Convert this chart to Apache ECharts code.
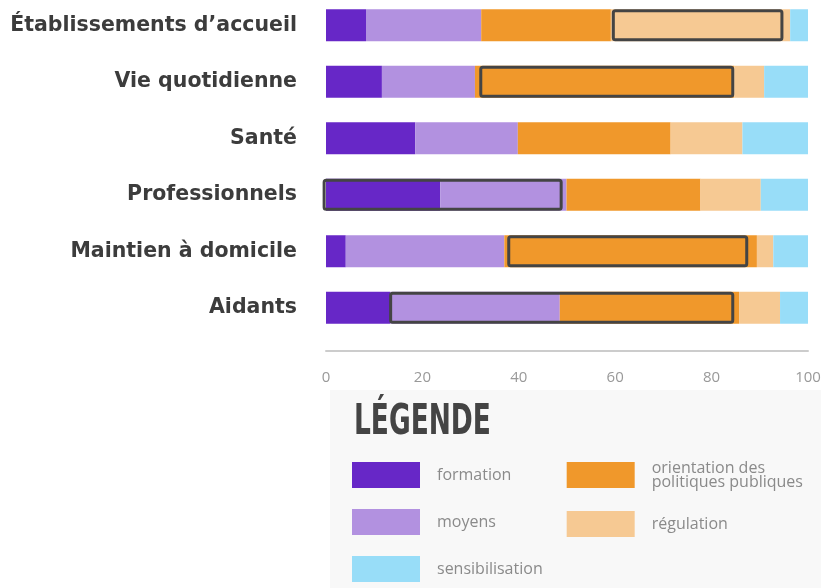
<!DOCTYPE html>
<html>
<head>
<meta charset="utf-8">
<script src="https://cdn.jsdelivr.net/npm/echarts@6/dist/echarts.min.js"></script>
<style>
  html, body { margin: 0; padding: 0; background: #fff; overflow: hidden; }
  #chart { width: 821px; height: 588px; }
</style>
</head>
<body>
<div id="chart"></div>
<script>
// categories, top to bottom
const categories = ["Établissements d’accueil", "Vie quotidienne", "Santé", "Professionnels", "Maintien à domicile", "Aidants"];

// share of each theme (%) per category
const formation = [8.3, 11.6, 18.5, 23.7, 4.1, 13.3];
const moyens = [23.9, 19.3, 21.3, 26.2, 32.9, 35.2];
const orientation = [26.9, 53.8, 31.7, 27.8, 52.4, 37.2];
const regulation = [37.2, 6.2, 14.9, 12.5, 3.4, 8.5];
const sensibilisation = [3.7, 9.1, 13.6, 9.8, 7.2, 5.8];

// highlighted ranges [from, to, categoryIndex]
const highlights = [
    [59.3, 94.9, 0],
    [31.8, 84.7, 1],
    [-0.7, 49.1, 3],
    [37.6, 87.6, 4],
    [13.1, 84.7, 5]
];

const xTicks = [0, 20, 40, 60, 80, 100];

const seriesDefs = [
    { name: "formation", data: formation, color: "#6727C7" },
    { name: "moyens", data: moyens, color: "#B291E0" },
    { name: "orientation des politiques publiques", data: orientation, color: "#F0982B" },
    { name: "régulation", data: regulation, color: "#F6C993" },
    { name: "sensibilisation", data: sensibilisation, color: "#98DDF8" }
];

// legend reads column by column
const legendOrder = ["formation", "moyens", "sensibilisation", "orientation des politiques publiques", "régulation"];

const myChart = echarts.init(document.getElementById("chart"));

const barSeries = seriesDefs.map(s => ({
    name: s.name,
    type: "bar",
    stack: "total",
    barWidth: 32,
    data: s.data,
    itemStyle: { color: s.color },
    emphasis: { disabled: true }
}));

const boxSeries = {
    type: "custom",
    name: "highlight",
    data: highlights,
    encode: { x: [0, 1], y: 2 },
    z: 10,
    silent: true,
    renderItem: (params, api) => {
        const a = api.coord([api.value(0), api.value(2)]);
        const b = api.coord([api.value(1), api.value(2)]);
        const h = 32;
        return {
            type: "rect",
            shape: { x: a[0] + 1.5, y: a[1] - h / 2 + 1.5, width: b[0] - a[0] - 3, height: h - 3, r: 2 },
            style: { fill: "none", stroke: "#444444", lineWidth: 3 }
        };
    }
};

const option = {
    animation: false,
    backgroundColor: "#ffffff",
    grid: { left: 326, right: 13, top: -3, bottom: 252, containLabel: false, outerBoundsMode: "none" },
    xAxis: {
        type: "value",
        min: xTicks[0],
        max: xTicks[xTicks.length - 1],
        interval: 20,
        offset: 15,
        splitLine: { show: false },
        axisTick: { show: false },
        axisLine: { show: true, lineStyle: { color: "#cccccc", width: 2 } },
        axisLabel: { color: "#999999", fontSize: 15, fontFamily: "Open Sans", margin: 19 }
    },
    yAxis: {
        type: "category",
        data: categories,
        inverse: true,
        axisLine: { show: false },
        axisTick: { show: false },
        axisLabel: {
            color: "#3c3c3c",
            fontSize: 20.5,
            fontWeight: "bold",
            fontFamily: "DejaVu Sans",
            margin: 29,
            padding: [6, 0, 0, 0]
        }
    },
    legend: {
        data: legendOrder,
        orient: "vertical",
        left: 352,
        top: 460,
        height: 128,
        padding: 0,
        itemWidth: 68,
        itemHeight: 26,
        itemGap: 21,
        icon: "rect",
        selectedMode: false,
        formatter: name => name === "orientation des politiques publiques" ? "orientation des\npolitiques publiques" : name,
        textStyle: { color: "#8a8a8a", fontSize: 16, fontFamily: "Open Sans", lineHeight: 14, padding: [0, 3, 0, 12] }
    },
    graphic: [
        {
            type: "rect",
            left: 330,
            top: 390,
            z: -10,
            shape: { width: 491, height: 198 },
            style: { fill: "#f8f8f8" }
        },
        {
            type: "text",
            left: 354,
            top: 402,
            scaleX: 0.7,
            style: {
                text: "LÉGENDE",
                fill: "#444444",
                fontFamily: "DejaVu Sans Condensed",
                fontWeight: "bold",
                fontSize: 42
            }
        }
    ],
    series: [...barSeries, boxSeries]
};

myChart.setOption(option);
</script>
</body>
</html>
